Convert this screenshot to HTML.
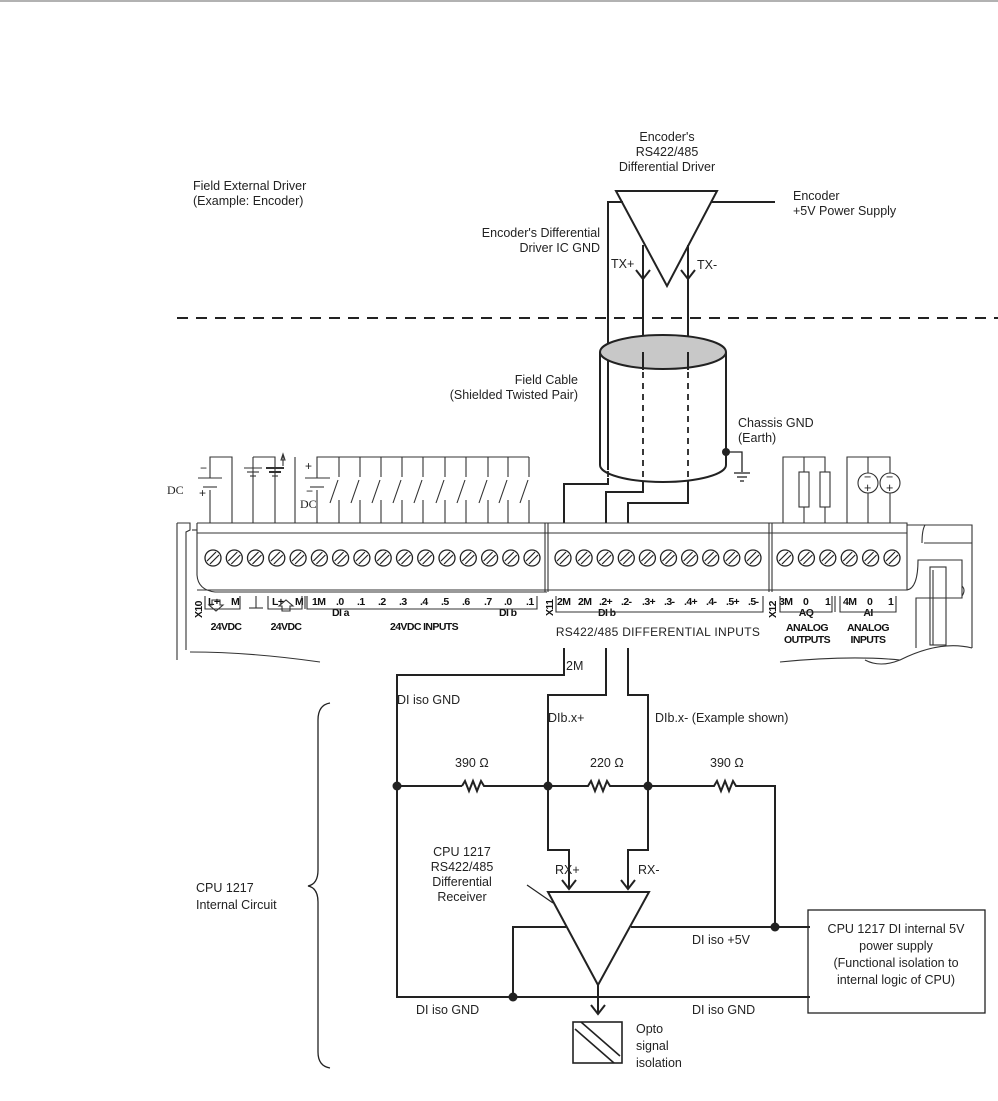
<!DOCTYPE html>
<html><head><meta charset="utf-8"><style>
html,body{margin:0;padding:0;background:#fff;}
svg{display:block;}
text{font-family:"Liberation Sans",sans-serif;font-size:12.5px;fill:#222;}
.t{font-family:"Liberation Sans",sans-serif;font-size:10.5px;font-weight:bold;fill:#111;letter-spacing:-0.6px;}
</style></head><body>
<svg width="998" height="1101" viewBox="0 0 998 1101" xmlns="http://www.w3.org/2000/svg">
<defs>
<g id="scr"><circle cx="0" cy="0" r="8" fill="#fff" stroke="#222" stroke-width="1.3"/><line x1="-6" y1="3" x2="3" y2="-6" stroke="#222" stroke-width="1.2"/><line x1="-3" y1="6" x2="6" y2="-3" stroke="#222" stroke-width="1.2"/></g>
</defs>
<line x1="0" y1="1" x2="998" y2="1" stroke="#666" stroke-width="1"/>

<text x="193" y="190">Field External Driver</text>
<text x="193" y="205">(Example: Encoder)</text>
<text x="667" y="141" text-anchor="middle">Encoder's</text>
<text x="667" y="156" text-anchor="middle">RS422/485</text>
<text x="667" y="171" text-anchor="middle">Differential Driver</text>
<text x="793" y="200">Encoder</text>
<text x="793" y="215">+5V Power Supply</text>
<text x="600" y="237" text-anchor="end">Encoder's Differential</text>
<text x="600" y="252" text-anchor="end">Driver IC GND</text>
<text x="611" y="268">TX+</text>
<text x="697" y="269">TX-</text>
<text x="578" y="384" text-anchor="end">Field Cable</text>
<text x="578" y="399" text-anchor="end">(Shielded Twisted Pair)</text>
<text x="738" y="427">Chassis GND</text>
<text x="738" y="442">(Earth)</text>

<g stroke="#222" stroke-width="2" fill="none">
<polygon points="616,191 717,191 667,286" fill="#fff"/>
<polyline points="608,470 608,202 623,202"/>
<line x1="711" y1="202" x2="775" y2="202"/>
<line x1="643" y1="245" x2="643" y2="370"/>
<line x1="688" y1="245" x2="688" y2="370"/>
<polyline points="636,270 643,279 650,270"/>
<polyline points="681,270 688,279 695,270"/>
</g>
<line x1="177" y1="318" x2="998" y2="318" stroke="#222" stroke-width="2" stroke-dasharray="11,8"/>

<g stroke="#222" stroke-width="2" fill="none">
<path d="M600,352 L600,465 A63,17 0 0 0 726,465 L726,352"/>
<ellipse cx="663" cy="352" rx="63" ry="17" fill="#c8c8c8"/>
<line x1="643" y1="352" x2="643" y2="369"/>
<line x1="688" y1="352" x2="688" y2="369"/>
</g>
<g stroke="#222" stroke-width="1.8" stroke-dasharray="6,5">
<line x1="608" y1="372" x2="608" y2="478"/>
<line x1="643" y1="372" x2="643" y2="482"/>
<line x1="688" y1="372" x2="688" y2="480"/>
</g>
<g stroke="#222" stroke-width="2" fill="none">
<polyline points="608,478 608,484 564,484 564,523"/>
<polyline points="643,482 643,492 606,492 606,523"/>
<polyline points="688,480 688,503 628,503 628,523"/>
<polyline points="726,452 742,452 742,472" stroke-width="1.3"/>
</g>
<circle cx="726" cy="452" r="4" fill="#222"/>
<g stroke="#222" stroke-width="1.3"><line x1="734" y1="473" x2="750" y2="473"/><line x1="737" y1="477" x2="747" y2="477"/><line x1="740" y1="481" x2="744" y2="481"/></g>

<g stroke="#333" stroke-width="1.1" fill="none">
<polyline points="210,523 210,490"/><polyline points="210,478 210,457 232,457 232,523"/>
<line x1="198" y1="478" x2="222" y2="478"/><line x1="203" y1="487" x2="217" y2="487"/>
<line x1="253" y1="457" x2="253" y2="523"/>
<line x1="244" y1="468" x2="262" y2="468"/><line x1="247" y1="472" x2="259" y2="472"/><line x1="250" y1="476" x2="256" y2="476"/>
<polyline points="253,457 275,457 275,523"/>
<line x1="266" y1="468" x2="284" y2="468" stroke-width="2"/><line x1="269" y1="472" x2="281" y2="472" stroke-width="2"/><line x1="272" y1="476" x2="278" y2="476"/>
<line x1="283" y1="466" x2="283" y2="455"/><polygon points="281,460 283,454 285,460"/>
<line x1="295" y1="457" x2="295" y2="523"/>
<polyline points="317,523 317,490"/><polyline points="317,478 317,457 529,457"/>
<line x1="305" y1="478" x2="330" y2="478"/><line x1="310" y1="487" x2="324" y2="487"/>
<path d="M339,457v20M330,503l8,-23M339,500v23 M360,457v20M351,503l8,-23M360,500v23 M381,457v20M372,503l8,-23M381,500v23 M402,457v20M393,503l8,-23M402,500v23 M423,457v20M414,503l8,-23M423,500v23 M445,457v20M436,503l8,-23M445,500v23 M466,457v20M457,503l8,-23M466,500v23 M488,457v20M479,503l8,-23M488,500v23 M508,457v20M499,503l8,-23M508,500v23 M529,457v20M520,503l8,-23M529,500v23"/>
</g>
<text x="167" y="494" style="font-family:'Liberation Serif',serif;font-size:12px">DC</text>
<text x="200" y="472" style="font-size:12px">−</text><text x="199" y="497" style="font-size:12px">+</text>
<text x="305" y="470" style="font-size:12px">+</text><text x="306" y="495" style="font-size:12px">−</text>
<text x="300" y="508" style="font-family:'Liberation Serif',serif;font-size:12px">DC</text>

<g stroke="#333" stroke-width="1.1" fill="#fff">
<polyline points="783,523 783,457 825,457 825,523" fill="none"/>
<line x1="804" y1="457" x2="804" y2="523"/>
<rect x="799" y="472" width="10" height="35"/><rect x="820" y="472" width="10" height="35"/>
<polyline points="847,523 847,457 890,457 890,523" fill="none"/>
<line x1="868" y1="457" x2="868" y2="523"/>
<circle cx="868" cy="483" r="10"/><circle cx="890" cy="483" r="10"/>
</g>
<g style="font-size:10px"><text x="864" y="481">−</text><text x="864" y="492">+</text><text x="886" y="481">−</text><text x="886" y="492">+</text></g>

<g stroke="#333" stroke-width="1.1" fill="none">
<path d="M197,523 L907,523 L907,590 L197,590"/>
<line x1="197" y1="533" x2="907" y2="533"/>
<path d="M197,523 L197,575 Q198,590 215,592 L547,592"/>
<line x1="545" y1="523" x2="545" y2="592"/><line x1="548" y1="523" x2="548" y2="592"/>
<line x1="769" y1="523" x2="769" y2="592"/><line x1="772" y1="523" x2="772" y2="592"/>
<path d="M177,523 L190,523 L190,530 L186,532 L186,650"/>
<path d="M177,523 L177,660"/>
<path d="M192,530 L197,530"/>
<path d="M190,652 Q250,652 320,662"/>
<path d="M907,525 L925,525 L972,525 L972,648"/>
<path d="M907,590 Q918,588 918,560 L930,560 L962,560 L962,598 L916,598 L916,648"/>
<line x1="924" y1="543" x2="972" y2="543"/>
<path d="M925,525 Q922,530 922,543"/>
<rect x="930" y="567" width="16" height="78"/><line x1="933" y1="570" x2="933" y2="645"/>
<path d="M962,586 Q966,590 962,596"/>
<path d="M780,662 Q850,655 900,660 Q940,640 972,648"/>
<path d="M900,660 Q880,668 865,660"/>
</g>
<g>
<use href="#scr" x="213" y="558"/><use href="#scr" x="234.3" y="558"/><use href="#scr" x="255.5" y="558"/><use href="#scr" x="276.8" y="558"/><use href="#scr" x="298.1" y="558"/><use href="#scr" x="319.4" y="558"/><use href="#scr" x="340.6" y="558"/><use href="#scr" x="361.9" y="558"/><use href="#scr" x="383.2" y="558"/><use href="#scr" x="404.5" y="558"/><use href="#scr" x="425.7" y="558"/><use href="#scr" x="447" y="558"/><use href="#scr" x="468.3" y="558"/><use href="#scr" x="489.6" y="558"/><use href="#scr" x="510.8" y="558"/><use href="#scr" x="532" y="558"/>
<use href="#scr" x="563" y="558"/><use href="#scr" x="584.1" y="558"/><use href="#scr" x="605.2" y="558"/><use href="#scr" x="626.3" y="558"/><use href="#scr" x="647.4" y="558"/><use href="#scr" x="668.5" y="558"/><use href="#scr" x="689.6" y="558"/><use href="#scr" x="710.7" y="558"/><use href="#scr" x="731.8" y="558"/><use href="#scr" x="753" y="558"/>
<use href="#scr" x="785" y="558"/><use href="#scr" x="806.4" y="558"/><use href="#scr" x="827.8" y="558"/><use href="#scr" x="849.2" y="558"/><use href="#scr" x="870.6" y="558"/><use href="#scr" x="892" y="558"/>
</g>

<g class="t">
<text class="t" x="202" y="618" transform="rotate(-90 202 618)">X10</text>
<text class="t" x="208" y="605">L+</text><text class="t" x="231" y="605">M</text>
<text class="t" x="272" y="605">L+</text><text class="t" x="295" y="605">M</text>
<text class="t" x="312" y="605">1M</text><text class="t" x="336" y="605">.0</text><text class="t" x="357" y="605">.1</text><text class="t" x="378" y="605">.2</text><text class="t" x="399" y="605">.3</text><text class="t" x="420" y="605">.4</text><text class="t" x="441" y="605">.5</text><text class="t" x="462" y="605">.6</text><text class="t" x="484" y="605">.7</text><text class="t" x="504" y="605">.0</text><text class="t" x="526" y="605">.1</text>
<text class="t" x="332" y="616">DI a</text><text class="t" x="499" y="616">DI b</text>
<text class="t" x="226" y="630" text-anchor="middle">24VDC</text><text class="t" x="286" y="630" text-anchor="middle">24VDC</text><text class="t" x="424" y="630" text-anchor="middle">24VDC INPUTS</text>
<text class="t" x="553" y="616" transform="rotate(-90 553 616)">X11</text>
<text class="t" x="557" y="605">2M</text><text class="t" x="578" y="605">2M</text><text class="t" x="599" y="605">.2+</text><text class="t" x="621" y="605">.2-</text><text class="t" x="642" y="605">.3+</text><text class="t" x="664" y="605">.3-</text><text class="t" x="684" y="605">.4+</text><text class="t" x="706" y="605">.4-</text><text class="t" x="726" y="605">.5+</text><text class="t" x="748" y="605">.5-</text>
<text class="t" x="598" y="616">DI b</text>
<text class="t" x="776" y="618" transform="rotate(-90 776 618)">X12</text>
<text class="t" x="779" y="605">3M</text><text class="t" x="803" y="605">0</text><text class="t" x="825" y="605">1</text><text class="t" x="806" y="616" text-anchor="middle">AQ</text>
<text class="t" x="843" y="605">4M</text><text class="t" x="867" y="605">0</text><text class="t" x="888" y="605">1</text><text class="t" x="868" y="616" text-anchor="middle">AI</text>
<text class="t" x="807" y="631" text-anchor="middle">ANALOG</text><text class="t" x="807" y="643" text-anchor="middle">OUTPUTS</text>
<text class="t" x="868" y="631" text-anchor="middle">ANALOG</text><text class="t" x="868" y="643" text-anchor="middle">INPUTS</text>
</g>
<text x="658" y="636" text-anchor="middle" style="font-size:12px;letter-spacing:0.3px">RS422/485 DIFFERENTIAL INPUTS</text>
<g stroke="#333" stroke-width="1.1" fill="none">
<polyline points="205,596 205,609 240,609 240,596"/>
<polygon points="212,600 220,600 220,605 223,605 216,611 209,605 212,605"/>
<line x1="256" y1="596" x2="256" y2="608"/><line x1="249" y1="608" x2="263" y2="608"/>
<polyline points="268,596 268,609 302,609 302,596"/><polyline points="305,596 305,609"/>
<polygon points="282,611 290,611 290,606 293,606 286,600 279,606 282,606"/>
<polyline points="307,596 307,609 537,609 537,596"/>
<polyline points="556,596 556,612 763,612 763,596"/>
<polyline points="780,596 780,612 832,612 832,596"/><line x1="835" y1="596" x2="835" y2="612"/>
<polyline points="840,596 840,612 896,612 896,596"/>
</g>

<g stroke="#222" stroke-width="2" fill="none">
<polyline points="564,648 564,675 397,675 397,997 810,997"/>
<polyline points="606,648 606,695 548,695 548,850 569,850 569,888"/>
<polyline points="628,648 628,695 648,695 648,850 628,850 628,888"/>
<line x1="397" y1="786" x2="462" y2="786"/>
<polyline points="462,786 465,781 469,791 473,781 477,791 481,781 484,786 548,786"/>
<polyline points="548,786 588,786 591,781 595,791 599,781 603,791 607,781 610,786 648,786"/>
<polyline points="648,786 714,786 717,781 721,791 725,781 729,791 733,781 736,786 775,786 775,927"/>
<polyline points="562,880 569,889 576,880"/>
<polyline points="621,880 628,889 635,880"/>
<polygon points="548,892 649,892 598,985" fill="#fff"/>
<polyline points="566,927 513,927 513,997"/>
<line x1="631" y1="927" x2="810" y2="927"/>
<line x1="598" y1="985" x2="598" y2="1013"/>
<polyline points="591,1005 598,1014 605,1005"/>
<rect x="573" y="1022" width="49" height="41" stroke-width="1.6"/>
<line x1="575" y1="1029" x2="614" y2="1063" stroke-width="1.6"/><line x1="581" y1="1022" x2="620" y2="1056" stroke-width="1.6"/>
<rect x="808" y="910" width="177" height="103" stroke-width="1.3"/>
<line x1="527" y1="885" x2="553" y2="903" stroke-width="1.2"/>
<path d="M330,703 Q318,705 318,720 L318,870 Q318,884 308,886 Q318,888 318,902 L318,1052 Q318,1066 330,1068" stroke-width="1.3"/>
</g>
<g fill="#222"><circle cx="397" cy="786" r="4.5"/><circle cx="548" cy="786" r="4.5"/><circle cx="648" cy="786" r="4.5"/><circle cx="775" cy="927" r="4.5"/><circle cx="513" cy="997" r="4.5"/></g>

<text x="566" y="670">2M</text>
<text x="397" y="704">DI iso GND</text>
<text x="548" y="722">DIb.x+</text>
<text x="655" y="722">DIb.x-  (Example shown)</text>
<text x="455" y="767">390 Ω</text>
<text x="590" y="767">220 Ω</text>
<text x="710" y="767">390 Ω</text>
<text x="462" y="856" text-anchor="middle">CPU 1217</text>
<text x="462" y="871" text-anchor="middle">RS422/485</text>
<text x="462" y="886" text-anchor="middle">Differential</text>
<text x="462" y="901" text-anchor="middle">Receiver</text>
<text x="555" y="874">RX+</text>
<text x="638" y="874">RX-</text>
<text x="692" y="944">DI iso +5V</text>
<text x="416" y="1014">DI iso GND</text>
<text x="692" y="1014">DI iso GND</text>
<text x="636" y="1033">Opto</text>
<text x="636" y="1050">signal</text>
<text x="636" y="1067">isolation</text>
<text x="196" y="892">CPU 1217</text>
<text x="196" y="909">Internal Circuit</text>
<text x="896" y="933" text-anchor="middle">CPU 1217 DI internal 5V</text>
<text x="896" y="950" text-anchor="middle">power supply</text>
<text x="896" y="967" text-anchor="middle">(Functional isolation to</text>
<text x="896" y="984" text-anchor="middle">internal logic of CPU)</text>
</svg>
</body></html>
